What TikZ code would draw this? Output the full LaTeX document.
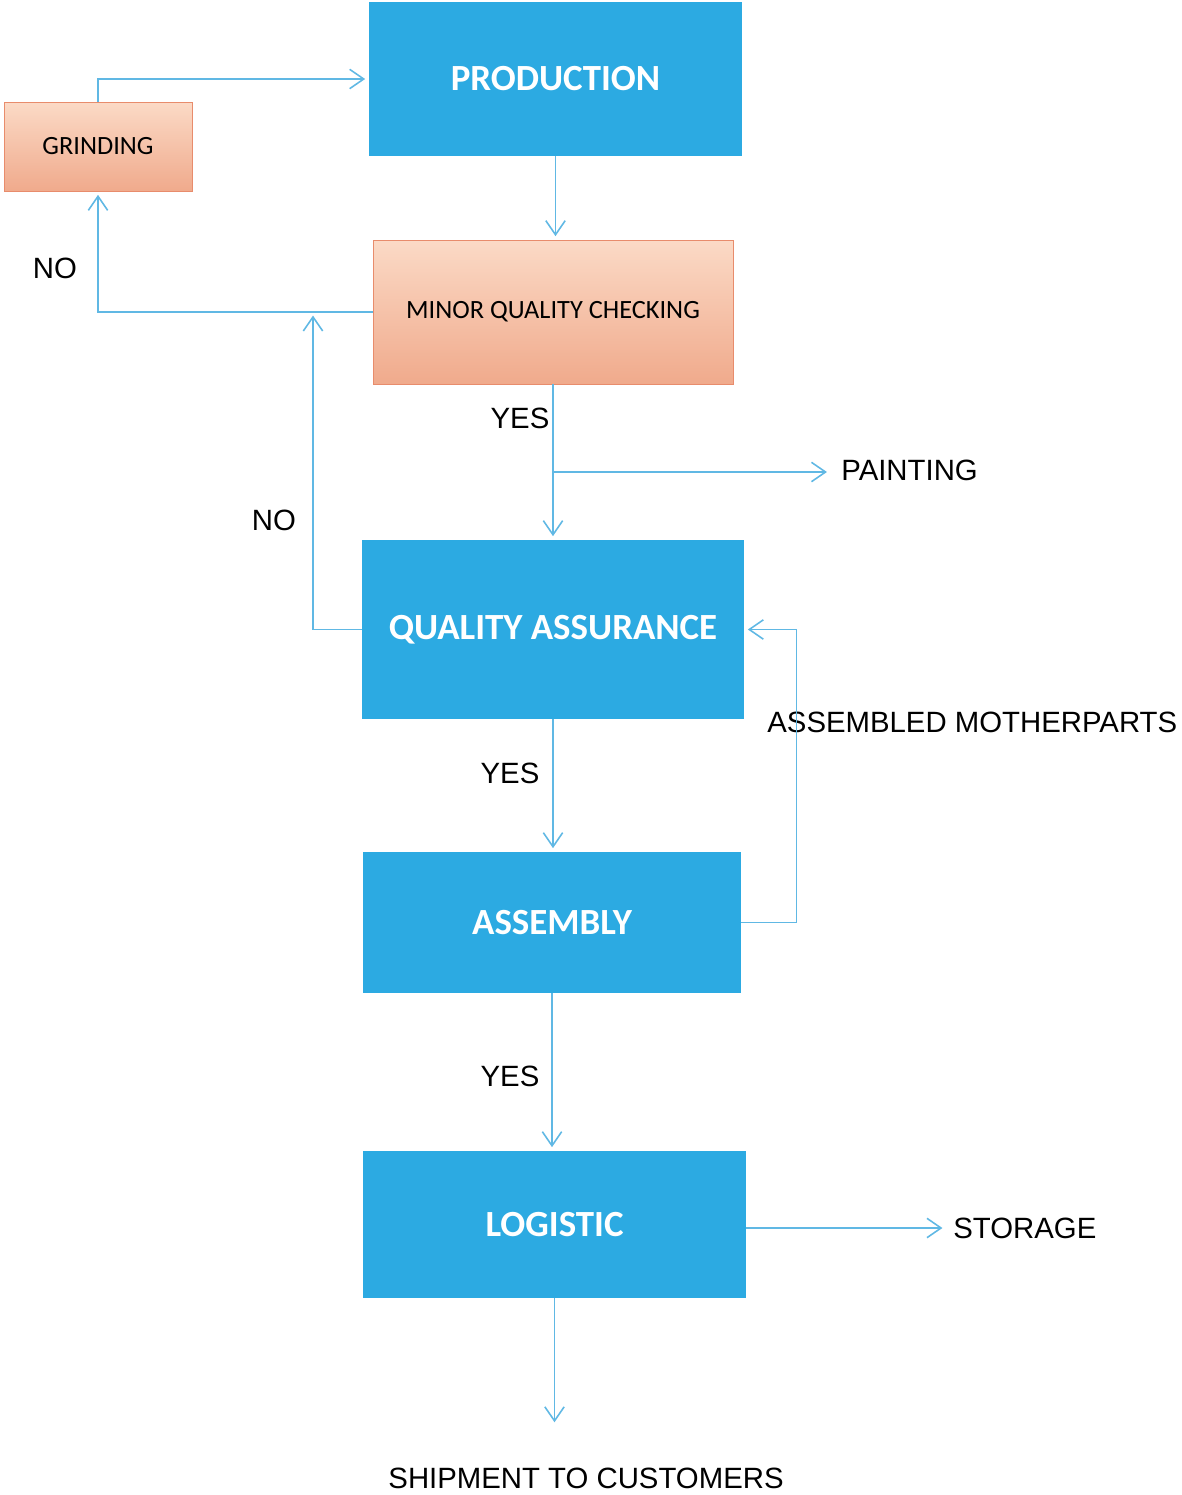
\documentclass[tikz,border=0pt]{standalone}
\usepackage{fontspec}
\setmainfont{Liberation Sans}
\newfontfamily\boxfont{Carlito}
\usetikzlibrary{arrows.meta}

\definecolor{stepblue}{RGB}{44,170,226}
\definecolor{peachtop}{RGB}{251,218,198}
\definecolor{peachbot}{RGB}{240,170,140}
\definecolor{peachline}{RGB}{232,140,108}
\definecolor{flowline}{RGB}{96,184,228}

\tikzset{
	bluebox/.style={rectangle,fill=stepblue,text=white,inner sep=0pt,
		font=\boxfont\bfseries\fontsize{21}{25}\selectfont},
	peachbox/.style={rectangle,draw=peachline,top color=peachtop,bottom color=peachbot,
		inner sep=0pt,font=\boxfont\fontsize{15}{18}\selectfont},
	flow/.style={draw=flowline,line width=0.9pt,
		-{Straight Barb[length=8pt,width=11pt,line width=0.9pt]},shorten >=2pt},
	lbl/.style={inner sep=0pt,font=\fontsize{16.7}{20}\selectfont},
}

\begin{document}
\begin{tikzpicture}
		\useasboundingbox (0,0) rectangle (23.64,-29.9);
		% boxes
		\node[bluebox,minimum width=7.46cm,minimum height=3.08cm] (prod) at (11.11,-1.58) {PRODUCTION};
		\node[peachbox,minimum width=3.76cm,minimum height=1.78cm] (grind) at (1.96,-2.93) {GRINDING};
		\node[peachbox,minimum width=7.2cm,minimum height=2.88cm] (mqc) at (11.06,-6.24) {MINOR QUALITY CHECKING};
		\node[bluebox,minimum width=7.64cm,minimum height=3.58cm] (qa) at (11.06,-12.59) {QUALITY ASSURANCE};
		\node[bluebox,minimum width=7.56cm,minimum height=2.82cm] (asm) at (11.04,-18.45) {ASSEMBLY};
		\node[bluebox,minimum width=7.66cm,minimum height=2.94cm] (logi) at (11.09,-24.49) {LOGISTIC};
		% side labels
		\node[lbl,anchor=west] (paint) at (16.82,-9.4) {PAINTING};
		\node[lbl,anchor=west] (motherparts) at (15.34,-14.44) {ASSEMBLED MOTHERPARTS};
		\node[lbl,anchor=west] (storage) at (19.06,-24.56) {STORAGE};
		\node[lbl] (ship) at (11.72,-29.56) {SHIPMENT TO CUSTOMERS};
		\node[lbl] (no1) at (1.1,-5.36) {NO};
		\node[lbl] (no2) at (5.48,-10.4) {NO};
		\node[lbl] (yes1) at (10.4,-8.36) {YES};
		\node[lbl] (yes2) at (10.2,-15.46) {YES};
		\node[lbl] (yes3) at (10.2,-21.52) {YES};
		\coordinate (nojoin) at (6.26,-6.24);
		\coordinate (paintfork) at (11.06,-9.44);
		% connectors
		\draw[flow] (grind.north) |- (prod.west);
		\draw[flow] (prod.south) -- (prod.south |- mqc.north);
		\draw[flow] (mqc.west) -| (grind.south);
		\draw[flow] (qa.west) -| (nojoin);
		\draw[flow] (mqc.south) -- (mqc.south |- qa.north);
		\draw[flow,shorten >=8pt] (paintfork) -- (paintfork -| paint.west);
		\draw[flow] (asm.south) -- (asm.south |- logi.north);
		\draw[flow] (qa.south) -- (qa.south |- asm.north);
		\draw[flow] (asm.east) -- ++(1.1,0) |- (qa.east);
		\draw[flow,shorten >=6pt] (logi.east |- storage.west) -- (storage.west);
		\draw[flow,shorten >=0.9cm] (logi.south) -- (logi.south |- ship.north);
	\end{tikzpicture}
\end{document}
